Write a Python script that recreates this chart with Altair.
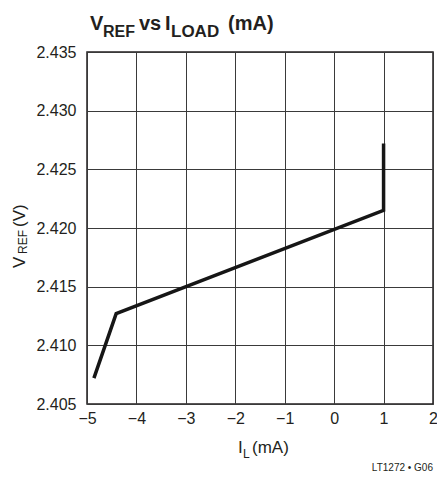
import altair as alt
import pandas as pd

# ---- data ----
i_load = [-4.86, -4.41, 1.0, 1.0]
v_ref = [2.4072, 2.4127, 2.4215, 2.4272]
point_order = [0, 1, 2, 3]
x_ticks = [-5, -4, -3, -2, -1, 0, 1, 2]
y_ticks = [2.405, 2.410, 2.415, 2.420, 2.425, 2.430, 2.435]

df = pd.DataFrame({"x": i_load, "y": v_ref, "o": point_order})

W, H = 346, 352
INK = "#231f20"
FONT = "Liberation Sans"

line = alt.Chart(df).mark_line(color="#161616", strokeWidth=3.5).encode(
    x=alt.X("x:Q",
            scale=alt.Scale(domain=[-5, 2], nice=False, zero=False),
            axis=alt.Axis(values=x_ticks, format="d", title=None, grid=True,
                          ticks=False, domain=False, labelPadding=6,
                          labelFontSize=16, labelFont=FONT, labelColor=INK,
                          gridColor="#3a3a3a", gridWidth=1, gridOpacity=1,
                          labelFlush=False)),
    y=alt.Y("y:Q",
            scale=alt.Scale(domain=[2.405, 2.435], nice=False, zero=False),
            axis=alt.Axis(values=y_ticks, format=".3f", title=None, grid=True,
                          ticks=False, domain=False, labelPadding=11,
                          labelFontSize=16, labelFont=FONT, labelColor=INK,
                          gridColor="#3a3a3a", gridWidth=1, gridOpacity=1,
                          labelFlush=False)),
    order="o:Q",
)


def label(text, x, y, size, weight="normal", angle=0, align="left"):
    return alt.Chart(pd.DataFrame({"t": [text]})).mark_text(
        align=align, baseline="alphabetic", fontSize=size, fontWeight=weight,
        angle=angle, font=FONT, color=INK,
    ).encode(x=alt.value(x), y=alt.value(y), text="t:N")


texts = [
    # title
    label("V", 3, -22, 20, "bold"),
    label("REF", 16, -15, 16, "bold"),
    label("vs", 52, -22, 20, "bold"),
    label("I", 78, -22, 20, "bold"),
    label("LOAD", 84, -15, 17, "bold"),
    label("(mA)", 141, -22, 20, "bold"),
    # y title (rotated)
    label("V", -62, 216, 17, angle=270),
    label("REF", -60, 202, 12, angle=270),
    label("(V)", -62, 175, 17, angle=270),
    # x title
    label("I", 151, 401, 17),
    label("L", 156, 406, 12),
    label("(mA)", 165, 401, 17),
    # footer
    label("LT1272 \u2022 G06", 346, 419, 10, align="right"),
]

chart = alt.layer(line, *texts).properties(
    width=W, height=H,
    autosize=alt.AutoSizeParams(type="none"),
    padding={"left": 79, "top": 44, "right": 4, "bottom": 68},
).configure_view(stroke=INK, strokeWidth=1.5)

chart.save("out.html", embed_options={"renderer": "svg", "actions": False})
